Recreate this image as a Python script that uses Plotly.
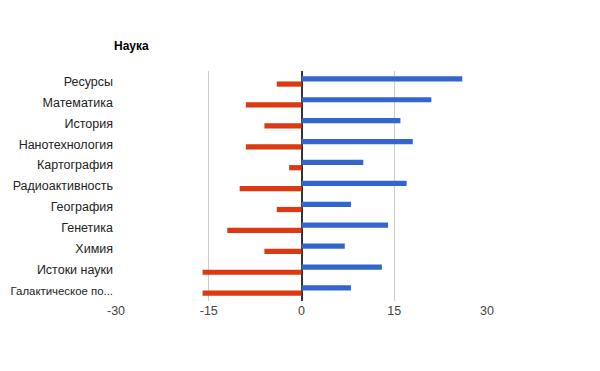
import plotly.graph_objects as go

categories = ["Ресурсы", "Математика", "История", "Нанотехнология", "Картография",
              "Радиоактивность", "География", "Генетика", "Химия", "Истоки науки",
              "Галактическое по..."]
positive = [26, 21, 16, 18, 10, 17, 8, 14, 7, 13, 8]
negative = [-4, -9, -6, -9, -2, -10, -4, -12, -6, -16, -16]
x_ticks = [-30, -15, 0, 15, 30]

W, H = 592, 363  # page body has 8px margin

fig = go.Figure()
fig.add_trace(go.Bar(y=categories, x=positive, orientation="h",
                     marker=dict(color="#3366cc", line=dict(width=0)), name="A"))
fig.add_trace(go.Bar(y=categories, x=negative, orientation="h",
                     marker=dict(color="#dc3912", line=dict(width=0)), name="B"))

# the longest label is drawn slightly smaller so it stays inside the page
y_ticktext = [c if len(c) < 17 else '<span style="font-size:11.4px">' + c + '</span>'
              for c in categories]

fig.update_layout(
    width=W, height=H,
    margin=dict(l=107.5, r=W - 478.6, t=63, b=H - 293, autoexpand=False),
    barmode="group", bargap=0.5, bargroupgap=0,
    showlegend=False,
    plot_bgcolor="white", paper_bgcolor="white",
    font=dict(family="Liberation Sans, Arial", size=12, color="#222222"),
    title=dict(text="<b>Наука</b>", x=106 / W, xanchor="left", y=1 - 38 / H, yanchor="middle",
               font=dict(size=12, color="#000000")),
    xaxis=dict(range=[-30, 30], tickvals=x_ticks, ticktext=[str(v) for v in x_ticks],
               showgrid=True, gridcolor="#cccccc", gridwidth=1,
               zeroline=True, zerolinecolor="#333333", zerolinewidth=1.5,
               showline=False, ticks="", automargin=False,
               tickfont=dict(color="#444444", size=12.5)),
    yaxis=dict(autorange="reversed", showgrid=False, showline=False, ticks="",
               automargin=False, ticklabelstandoff=2,
               tickmode="array", tickvals=categories, ticktext=y_ticktext,
               tickfont=dict(color="#222222", size=12.5)),
)

fig.write_html("out.html")
